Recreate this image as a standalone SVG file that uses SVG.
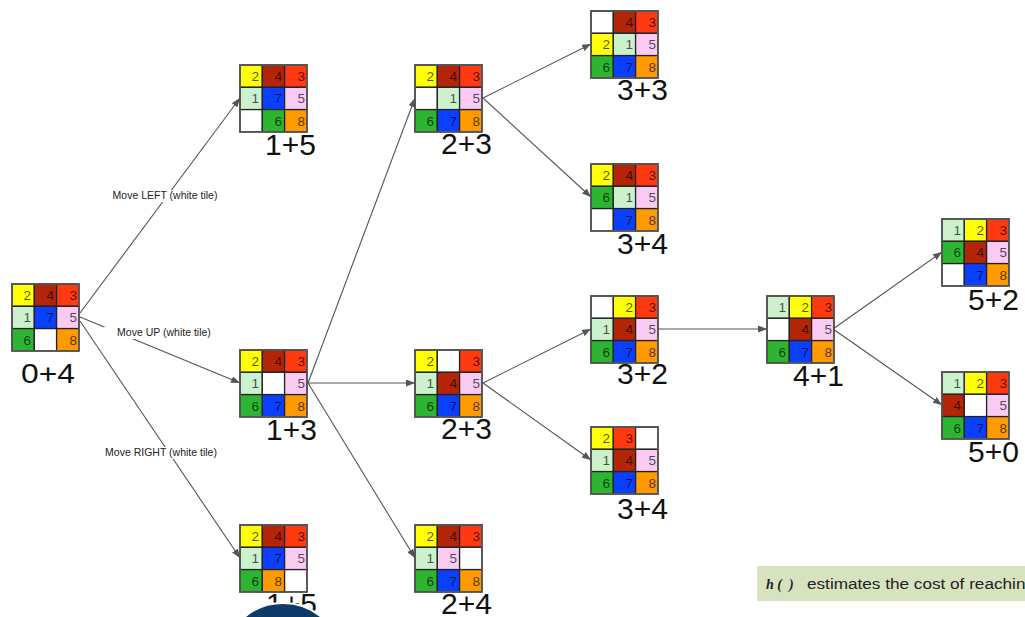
<svg xmlns="http://www.w3.org/2000/svg" width="1025" height="617" viewBox="0 0 1025 617">
<style>
.k0{fill:#ffffff}.k1{fill:#ccf1cd}.k2{fill:#ffff0a}.k3{fill:#ff3a10}.k4{fill:#b42508}.k5{fill:#f9cbf4}.k6{fill:#2db532}.k7{fill:#0b3fff}.k8{fill:#ff9a00}
.p rect{stroke:#222;stroke-width:1.3}
.p rect.bd{fill:none;stroke:#555;stroke-width:1.8}
.p text{font-family:"Liberation Sans",Arial,sans-serif;font-size:13.5px;text-anchor:end;fill:#000;fill-opacity:0.68}
.lbl{font-family:"Liberation Sans",Arial,sans-serif;font-size:30px;fill:#111}
.el{font-family:"Liberation Sans",Arial,sans-serif;font-size:10.5px;fill:#222;text-anchor:middle}
.e line{stroke:#555;stroke-width:1.1;marker-end:url(#ah)}
</style>
<defs>
<marker id="ah" markerUnits="userSpaceOnUse" markerWidth="9" markerHeight="7" refX="9" refY="3.5" orient="auto"><path d="M0,0 L9,3.5 L0,7 z" fill="#555"/></marker>
</defs>
<rect width="1025" height="617" fill="#ffffff"/>

<g id="connectors" class="e">
<line x1="80" y1="313" x2="240" y2="98"/>
<line x1="80" y1="317" x2="240" y2="383"/>
<line x1="80" y1="321" x2="240" y2="558"/>
<line x1="308" y1="383" x2="415" y2="98"/>
<line x1="308" y1="383" x2="415" y2="383"/>
<line x1="308" y1="383" x2="415" y2="558"/>
<line x1="483" y1="98" x2="591" y2="44"/>
<line x1="483" y1="98" x2="591" y2="197"/>
<line x1="483" y1="383" x2="591" y2="329"/>
<line x1="483" y1="383" x2="591" y2="460"/>
<line x1="658" y1="329" x2="767" y2="329"/>
<line x1="833" y1="329" x2="942" y2="252"/>
<line x1="833" y1="329" x2="942" y2="405"/>
</g>

<g id="edge-labels">
<rect x="104" y="190" width="122" height="12" fill="#fff"/>
<text class="el" x="165" y="199">Move LEFT (white tile)</text>
<rect x="104" y="327" width="120" height="12" fill="#fff"/>
<text class="el" x="164" y="336">Move UP (white tile)</text>
<rect x="96" y="447" width="130" height="12" fill="#fff"/>
<text class="el" x="161" y="456">Move RIGHT (white tile)</text>
</g>

<g id="n-root">
<g class="p" transform="translate(12,284)">
<rect class="k2" x="0" y="0" width="22.3" height="22.3"/><rect class="k4" x="22.3" y="0" width="22.3" height="22.3"/><rect class="k3" x="44.6" y="0" width="22.3" height="22.3"/>
<rect class="k1" x="0" y="22.3" width="22.3" height="22.3"/><rect class="k7" x="22.3" y="22.3" width="22.3" height="22.3"/><rect class="k5" x="44.6" y="22.3" width="22.3" height="22.3"/>
<rect class="k6" x="0" y="44.6" width="22.3" height="22.3"/><rect class="k0" x="22.3" y="44.6" width="22.3" height="22.3"/><rect class="k8" x="44.6" y="44.6" width="22.3" height="22.3"/>
<rect class="bd" x="0" y="0" width="66.9" height="66.9"/>
<text x="19" y="16">2</text><text x="42" y="16">4</text><text x="65" y="16">3</text>
<text x="19" y="38.3">1</text><text x="42" y="38.3">7</text><text x="65" y="38.3">5</text>
<text x="19" y="60.6">6</text><text x="65" y="60.6">8</text>
</g>
<text class="lbl" x="21" y="383" textLength="54" lengthAdjust="spacingAndGlyphs" style="font-size:27px">0+4</text>
</g>

<g id="n-a">
<g class="p" transform="translate(240,65)">
<rect class="k2" x="0" y="0" width="22.3" height="22.3"/><rect class="k4" x="22.3" y="0" width="22.3" height="22.3"/><rect class="k3" x="44.6" y="0" width="22.3" height="22.3"/>
<rect class="k1" x="0" y="22.3" width="22.3" height="22.3"/><rect class="k7" x="22.3" y="22.3" width="22.3" height="22.3"/><rect class="k5" x="44.6" y="22.3" width="22.3" height="22.3"/>
<rect class="k0" x="0" y="44.6" width="22.3" height="22.3"/><rect class="k6" x="22.3" y="44.6" width="22.3" height="22.3"/><rect class="k8" x="44.6" y="44.6" width="22.3" height="22.3"/>
<rect class="bd" x="0" y="0" width="66.9" height="66.9"/>
<text x="19" y="16">2</text><text x="42" y="16">4</text><text x="65" y="16">3</text>
<text x="19" y="38.3">1</text><text x="42" y="38.3">7</text><text x="65" y="38.3">5</text>
<text x="42" y="60.6">6</text><text x="65" y="60.6">8</text>
</g>
<text class="lbl" x="265" y="155">1+5</text>
</g>

<g id="n-b">
<g class="p" transform="translate(240,350)">
<rect class="k2" x="0" y="0" width="22.3" height="22.3"/><rect class="k4" x="22.3" y="0" width="22.3" height="22.3"/><rect class="k3" x="44.6" y="0" width="22.3" height="22.3"/>
<rect class="k1" x="0" y="22.3" width="22.3" height="22.3"/><rect class="k0" x="22.3" y="22.3" width="22.3" height="22.3"/><rect class="k5" x="44.6" y="22.3" width="22.3" height="22.3"/>
<rect class="k6" x="0" y="44.6" width="22.3" height="22.3"/><rect class="k7" x="22.3" y="44.6" width="22.3" height="22.3"/><rect class="k8" x="44.6" y="44.6" width="22.3" height="22.3"/>
<rect class="bd" x="0" y="0" width="66.9" height="66.9"/>
<text x="19" y="16">2</text><text x="42" y="16">4</text><text x="65" y="16">3</text>
<text x="19" y="38.3">1</text><text x="65" y="38.3">5</text>
<text x="19" y="60.6">6</text><text x="42" y="60.6">7</text><text x="65" y="60.6">8</text>
</g>
<text class="lbl" x="266" y="440">1+3</text>
</g>

<g id="n-c">
<g class="p" transform="translate(240,525)">
<rect class="k2" x="0" y="0" width="22.3" height="22.3"/><rect class="k4" x="22.3" y="0" width="22.3" height="22.3"/><rect class="k3" x="44.6" y="0" width="22.3" height="22.3"/>
<rect class="k1" x="0" y="22.3" width="22.3" height="22.3"/><rect class="k7" x="22.3" y="22.3" width="22.3" height="22.3"/><rect class="k5" x="44.6" y="22.3" width="22.3" height="22.3"/>
<rect class="k6" x="0" y="44.6" width="22.3" height="22.3"/><rect class="k8" x="22.3" y="44.6" width="22.3" height="22.3"/><rect class="k0" x="44.6" y="44.6" width="22.3" height="22.3"/>
<rect class="bd" x="0" y="0" width="66.9" height="66.9"/>
<text x="19" y="16">2</text><text x="42" y="16">4</text><text x="65" y="16">3</text>
<text x="19" y="38.3">1</text><text x="42" y="38.3">7</text><text x="65" y="38.3">5</text>
<text x="19" y="60.6">6</text><text x="42" y="60.6">8</text>
</g>
<text class="lbl" x="266" y="614">1+5</text>
</g>

<g id="n-d">
<g class="p" transform="translate(415,65)">
<rect class="k2" x="0" y="0" width="22.3" height="22.3"/><rect class="k4" x="22.3" y="0" width="22.3" height="22.3"/><rect class="k3" x="44.6" y="0" width="22.3" height="22.3"/>
<rect class="k0" x="0" y="22.3" width="22.3" height="22.3"/><rect class="k1" x="22.3" y="22.3" width="22.3" height="22.3"/><rect class="k5" x="44.6" y="22.3" width="22.3" height="22.3"/>
<rect class="k6" x="0" y="44.6" width="22.3" height="22.3"/><rect class="k7" x="22.3" y="44.6" width="22.3" height="22.3"/><rect class="k8" x="44.6" y="44.6" width="22.3" height="22.3"/>
<rect class="bd" x="0" y="0" width="66.9" height="66.9"/>
<text x="19" y="16">2</text><text x="42" y="16">4</text><text x="65" y="16">3</text>
<text x="42" y="38.3">1</text><text x="65" y="38.3">5</text>
<text x="19" y="60.6">6</text><text x="42" y="60.6">7</text><text x="65" y="60.6">8</text>
</g>
<text class="lbl" x="441" y="154">2+3</text>
</g>

<g id="n-e">
<g class="p" transform="translate(415,350)">
<rect class="k2" x="0" y="0" width="22.3" height="22.3"/><rect class="k0" x="22.3" y="0" width="22.3" height="22.3"/><rect class="k3" x="44.6" y="0" width="22.3" height="22.3"/>
<rect class="k1" x="0" y="22.3" width="22.3" height="22.3"/><rect class="k4" x="22.3" y="22.3" width="22.3" height="22.3"/><rect class="k5" x="44.6" y="22.3" width="22.3" height="22.3"/>
<rect class="k6" x="0" y="44.6" width="22.3" height="22.3"/><rect class="k7" x="22.3" y="44.6" width="22.3" height="22.3"/><rect class="k8" x="44.6" y="44.6" width="22.3" height="22.3"/>
<rect class="bd" x="0" y="0" width="66.9" height="66.9"/>
<text x="19" y="16">2</text><text x="65" y="16">3</text>
<text x="19" y="38.3">1</text><text x="42" y="38.3">4</text><text x="65" y="38.3">5</text>
<text x="19" y="60.6">6</text><text x="42" y="60.6">7</text><text x="65" y="60.6">8</text>
</g>
<text class="lbl" x="441" y="439">2+3</text>
</g>

<g id="n-f">
<g class="p" transform="translate(415,525)">
<rect class="k2" x="0" y="0" width="22.3" height="22.3"/><rect class="k4" x="22.3" y="0" width="22.3" height="22.3"/><rect class="k3" x="44.6" y="0" width="22.3" height="22.3"/>
<rect class="k1" x="0" y="22.3" width="22.3" height="22.3"/><rect class="k5" x="22.3" y="22.3" width="22.3" height="22.3"/><rect class="k0" x="44.6" y="22.3" width="22.3" height="22.3"/>
<rect class="k6" x="0" y="44.6" width="22.3" height="22.3"/><rect class="k7" x="22.3" y="44.6" width="22.3" height="22.3"/><rect class="k8" x="44.6" y="44.6" width="22.3" height="22.3"/>
<rect class="bd" x="0" y="0" width="66.9" height="66.9"/>
<text x="19" y="16">2</text><text x="42" y="16">4</text><text x="65" y="16">3</text>
<text x="19" y="38.3">1</text><text x="42" y="38.3">5</text>
<text x="19" y="60.6">6</text><text x="42" y="60.6">7</text><text x="65" y="60.6">8</text>
</g>
<text class="lbl" x="441" y="614">2+4</text>
</g>

<g id="n-g">
<g class="p" transform="translate(591,11)">
<rect class="k0" x="0" y="0" width="22.3" height="22.3"/><rect class="k4" x="22.3" y="0" width="22.3" height="22.3"/><rect class="k3" x="44.6" y="0" width="22.3" height="22.3"/>
<rect class="k2" x="0" y="22.3" width="22.3" height="22.3"/><rect class="k1" x="22.3" y="22.3" width="22.3" height="22.3"/><rect class="k5" x="44.6" y="22.3" width="22.3" height="22.3"/>
<rect class="k6" x="0" y="44.6" width="22.3" height="22.3"/><rect class="k7" x="22.3" y="44.6" width="22.3" height="22.3"/><rect class="k8" x="44.6" y="44.6" width="22.3" height="22.3"/>
<rect class="bd" x="0" y="0" width="66.9" height="66.9"/>
<text x="42" y="16">4</text><text x="65" y="16">3</text>
<text x="19" y="38.3">2</text><text x="42" y="38.3">1</text><text x="65" y="38.3">5</text>
<text x="19" y="60.6">6</text><text x="42" y="60.6">7</text><text x="65" y="60.6">8</text>
</g>
<text class="lbl" x="617" y="100">3+3</text>
</g>

<g id="n-h">
<g class="p" transform="translate(591,164)">
<rect class="k2" x="0" y="0" width="22.3" height="22.3"/><rect class="k4" x="22.3" y="0" width="22.3" height="22.3"/><rect class="k3" x="44.6" y="0" width="22.3" height="22.3"/>
<rect class="k6" x="0" y="22.3" width="22.3" height="22.3"/><rect class="k1" x="22.3" y="22.3" width="22.3" height="22.3"/><rect class="k5" x="44.6" y="22.3" width="22.3" height="22.3"/>
<rect class="k0" x="0" y="44.6" width="22.3" height="22.3"/><rect class="k7" x="22.3" y="44.6" width="22.3" height="22.3"/><rect class="k8" x="44.6" y="44.6" width="22.3" height="22.3"/>
<rect class="bd" x="0" y="0" width="66.9" height="66.9"/>
<text x="19" y="16">2</text><text x="42" y="16">4</text><text x="65" y="16">3</text>
<text x="19" y="38.3">6</text><text x="42" y="38.3">1</text><text x="65" y="38.3">5</text>
<text x="42" y="60.6">7</text><text x="65" y="60.6">8</text>
</g>
<text class="lbl" x="617" y="254">3+4</text>
</g>

<g id="n-i">
<g class="p" transform="translate(591,296)">
<rect class="k0" x="0" y="0" width="22.3" height="22.3"/><rect class="k2" x="22.3" y="0" width="22.3" height="22.3"/><rect class="k3" x="44.6" y="0" width="22.3" height="22.3"/>
<rect class="k1" x="0" y="22.3" width="22.3" height="22.3"/><rect class="k4" x="22.3" y="22.3" width="22.3" height="22.3"/><rect class="k5" x="44.6" y="22.3" width="22.3" height="22.3"/>
<rect class="k6" x="0" y="44.6" width="22.3" height="22.3"/><rect class="k7" x="22.3" y="44.6" width="22.3" height="22.3"/><rect class="k8" x="44.6" y="44.6" width="22.3" height="22.3"/>
<rect class="bd" x="0" y="0" width="66.9" height="66.9"/>
<text x="42" y="16">2</text><text x="65" y="16">3</text>
<text x="19" y="38.3">1</text><text x="42" y="38.3">4</text><text x="65" y="38.3">5</text>
<text x="19" y="60.6">6</text><text x="42" y="60.6">7</text><text x="65" y="60.6">8</text>
</g>
<text class="lbl" x="617" y="384">3+2</text>
</g>

<g id="n-j">
<g class="p" transform="translate(591,427)">
<rect class="k2" x="0" y="0" width="22.3" height="22.3"/><rect class="k3" x="22.3" y="0" width="22.3" height="22.3"/><rect class="k0" x="44.6" y="0" width="22.3" height="22.3"/>
<rect class="k1" x="0" y="22.3" width="22.3" height="22.3"/><rect class="k4" x="22.3" y="22.3" width="22.3" height="22.3"/><rect class="k5" x="44.6" y="22.3" width="22.3" height="22.3"/>
<rect class="k6" x="0" y="44.6" width="22.3" height="22.3"/><rect class="k7" x="22.3" y="44.6" width="22.3" height="22.3"/><rect class="k8" x="44.6" y="44.6" width="22.3" height="22.3"/>
<rect class="bd" x="0" y="0" width="66.9" height="66.9"/>
<text x="19" y="16">2</text><text x="42" y="16">3</text>
<text x="19" y="38.3">1</text><text x="42" y="38.3">4</text><text x="65" y="38.3">5</text>
<text x="19" y="60.6">6</text><text x="42" y="60.6">7</text><text x="65" y="60.6">8</text>
</g>
<text class="lbl" x="617" y="519">3+4</text>
</g>

<g id="n-k">
<g class="p" transform="translate(767,296)">
<rect class="k1" x="0" y="0" width="22.3" height="22.3"/><rect class="k2" x="22.3" y="0" width="22.3" height="22.3"/><rect class="k3" x="44.6" y="0" width="22.3" height="22.3"/>
<rect class="k0" x="0" y="22.3" width="22.3" height="22.3"/><rect class="k4" x="22.3" y="22.3" width="22.3" height="22.3"/><rect class="k5" x="44.6" y="22.3" width="22.3" height="22.3"/>
<rect class="k6" x="0" y="44.6" width="22.3" height="22.3"/><rect class="k7" x="22.3" y="44.6" width="22.3" height="22.3"/><rect class="k8" x="44.6" y="44.6" width="22.3" height="22.3"/>
<rect class="bd" x="0" y="0" width="66.9" height="66.9"/>
<text x="19" y="16">1</text><text x="42" y="16">2</text><text x="65" y="16">3</text>
<text x="42" y="38.3">4</text><text x="65" y="38.3">5</text>
<text x="19" y="60.6">6</text><text x="42" y="60.6">7</text><text x="65" y="60.6">8</text>
</g>
<text class="lbl" x="793" y="386">4+1</text>
</g>

<g id="n-l">
<g class="p" transform="translate(942,219)">
<rect class="k1" x="0" y="0" width="22.3" height="22.3"/><rect class="k2" x="22.3" y="0" width="22.3" height="22.3"/><rect class="k3" x="44.6" y="0" width="22.3" height="22.3"/>
<rect class="k6" x="0" y="22.3" width="22.3" height="22.3"/><rect class="k4" x="22.3" y="22.3" width="22.3" height="22.3"/><rect class="k5" x="44.6" y="22.3" width="22.3" height="22.3"/>
<rect class="k0" x="0" y="44.6" width="22.3" height="22.3"/><rect class="k7" x="22.3" y="44.6" width="22.3" height="22.3"/><rect class="k8" x="44.6" y="44.6" width="22.3" height="22.3"/>
<rect class="bd" x="0" y="0" width="66.9" height="66.9"/>
<text x="19" y="16">1</text><text x="42" y="16">2</text><text x="65" y="16">3</text>
<text x="19" y="38.3">6</text><text x="42" y="38.3">4</text><text x="65" y="38.3">5</text>
<text x="42" y="60.6">7</text><text x="65" y="60.6">8</text>
</g>
<text class="lbl" x="968" y="310">5+2</text>
</g>

<g id="n-m">
<g class="p" transform="translate(942,372)">
<rect class="k1" x="0" y="0" width="22.3" height="22.3"/><rect class="k2" x="22.3" y="0" width="22.3" height="22.3"/><rect class="k3" x="44.6" y="0" width="22.3" height="22.3"/>
<rect class="k4" x="0" y="22.3" width="22.3" height="22.3"/><rect class="k0" x="22.3" y="22.3" width="22.3" height="22.3"/><rect class="k5" x="44.6" y="22.3" width="22.3" height="22.3"/>
<rect class="k6" x="0" y="44.6" width="22.3" height="22.3"/><rect class="k7" x="22.3" y="44.6" width="22.3" height="22.3"/><rect class="k8" x="44.6" y="44.6" width="22.3" height="22.3"/>
<rect class="bd" x="0" y="0" width="66.9" height="66.9"/>
<text x="19" y="16">1</text><text x="42" y="16">2</text><text x="65" y="16">3</text>
<text x="19" y="38.3">4</text><text x="65" y="38.3">5</text>
<text x="19" y="60.6">6</text><text x="42" y="60.6">7</text><text x="65" y="60.6">8</text>
</g>
<text class="lbl" x="968" y="462">5+0</text>
</g>

<g id="note">
<rect x="757" y="566" width="280" height="35" fill="#d7e3bf"/>
<text x="766" y="589" font-family="Liberation Serif,serif" font-size="14" font-style="italic" font-weight="bold" fill="#222" xml:space="preserve">h (  )</text>
<text x="807" y="589" font-family="Liberation Sans,Arial,sans-serif" font-size="14" fill="#222" textLength="228" lengthAdjust="spacingAndGlyphs">estimates the cost of reaching</text>
</g>

<circle cx="283" cy="663" r="60" fill="#0d3a68" stroke="#ffffff" stroke-width="2"/>
</svg>
